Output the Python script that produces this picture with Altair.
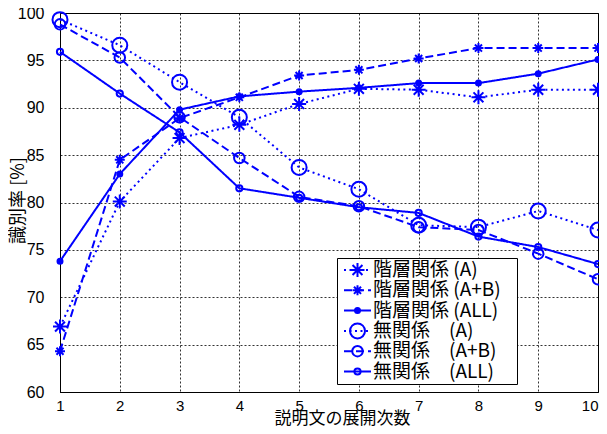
import altair as alt
import pandas as pd

# ---- data ----
x_vals = [1, 2, 3, 4, 5, 6, 7, 8, 9, 10]
y_ticks = [60, 65, 70, 75, 80, 85, 90, 95, 100]
series_names = [
    "階層関係 (A)",
    "階層関係 (A+B)",
    "階層関係 (ALL)",
    "無関係\u3000(A)",
    "無関係\u3000(A+B)",
    "無関係\u3000(ALL)",
]
kaiso_A = [66.9, 80.1, 86.8, 88.2, 90.4, 92.0, 91.9, 91.1, 91.9, 91.9]
kaiso_AB = [64.3, 84.5, 88.9, 91.1, 93.4, 94.0, 95.2, 96.3, 96.3, 96.3]
kaiso_ALL = [73.8, 83.0, 89.8, 91.2, 91.7, 92.1, 92.6, 92.6, 93.6, 95.1]
muk_A = [99.3, 96.6, 92.7, 89.0, 83.7, 81.4, 77.6, 77.4, 79.1, 77.1]
muk_AB = [98.8, 95.3, 89.0, 84.7, 80.6, 79.6, 77.4, 77.1, 74.6, 71.9]
muk_ALL = [95.9, 91.5, 87.4, 81.5, 80.5, 79.5, 78.9, 76.4, 75.3, 73.5]
all_series = [kaiso_A, kaiso_AB, kaiso_ALL, muk_A, muk_AB, muk_ALL]

rows = []
for i, (name, vals) in enumerate(zip(series_names, all_series)):
    for x, v in zip(x_vals, vals):
        rows.append({"x": x, "y": v, "series": name, "mkey": f"m{i}"})
df = pd.DataFrame(rows)
mkeys = [f"m{i}" for i in range(len(series_names))]

# ---- styles ----
BLUE = "#0000ff"
DOT = [2, 3.5]
DASH = [8, 4]
SOLID = [1, 0]
dashes = [DOT, DASH, SOLID, DOT, DASH, SOLID]


def asterisk(r):
    d = round(r * 0.7071, 4)
    return (f"M0,{-r}V{r}M{-r},0H{r}"
            f"M{-d},{-d}L{d},{d}M{-d},{d}L{d},{-d}")


def circle(r):
    return f"M{r},0A{r},{r},0,1,1,{-r},0A{r},{r},0,1,1,{r},0Z"


# filled dot: concentric rings that the 2px stroke fills in
shapes = [asterisk(0.7), asterisk(0.5), circle(0.25) + circle(0.1),
          circle(0.75), circle(0.525), circle(0.31)]

LEG_X = 277
LEG_Y = 245

line_legend = alt.Legend(
    orient="none", legendX=LEG_X, legendY=LEG_Y, title=None,
    symbolType="stroke", symbolSize=729, symbolStrokeWidth=2,
    symbolStrokeColor=BLUE, symbolOffset=4, labelOffset=1,
    labelExpr="datum.label + '\u2800'",
    labelFont="Noto Sans CJK JP", labelFontSize=19, labelColor="black",
    clipHeight=20, rowPadding=0.3, padding=2,
    fillColor="white", strokeColor="black",
)
marker_legend = alt.Legend(
    orient="none", legendX=LEG_X, legendY=LEG_Y, title=None,
    symbolSize=400, symbolStrokeWidth=2, symbolStrokeColor=BLUE,
    symbolFillColor="transparent", symbolOpacity=1,
    symbolOffset=7.5, labelExpr="''",
    labelFont="Noto Sans CJK JP", labelFontSize=19,
    clipHeight=20, rowPadding=0.3, padding=2,
)

x_enc = alt.X(
    "x:Q",
    scale=alt.Scale(domain=[1, 10], nice=False, zero=False),
    axis=alt.Axis(values=x_vals, title="説明文の展開次数", format="d",
                  labelFlush=False, labelOverlap=False, labelPadding=6,
                  labelFontSize=15,
                  labelAlign={"condition": {"test": "datum.value == 10", "value": "right"},
                              "value": "center"},
                  titleX=282, titleY=26.5, titleBaseline="middle",
                  titleFontSize=17),
)
y_enc = alt.Y(
    "y:Q",
    scale=alt.Scale(domain=[60, 100], nice=False, zero=False),
    axis=alt.Axis(values=y_ticks, title="識別率 [%]", format="d",
                  labelOverlap=False, labelPadding=16, labelFontSize=16,
                  titleX=-42, titleY=187, titleBaseline="middle",
                  titleAlign="center", titleFontSize=18),
)

lines = alt.Chart(df).mark_line(color=BLUE, strokeWidth=2).encode(
    x=x_enc, y=y_enc,
    strokeDash=alt.StrokeDash("series:N",
                              scale=alt.Scale(domain=series_names, range=dashes),
                              legend=line_legend),
)

points = alt.Chart(df).mark_point(
    color=BLUE, strokeWidth=2, size=400, filled=False, opacity=1
).encode(
    x=x_enc, y=y_enc,
    shape=alt.Shape("mkey:N", scale=alt.Scale(domain=mkeys, range=shapes),
                    legend=marker_legend),
)

chart = alt.layer(lines, points).properties(
    width=538, height=379,
    autosize=alt.AutoSizeParams(type="none"),
    padding={"left": 52, "top": 5, "right": 1, "bottom": 34},
).configure_view(
    stroke="black", strokeWidth=1
).configure_axis(
    labelFont="Liberation Sans", labelColor="black",
    titleFont="Noto Sans CJK JP", titleFontWeight="normal", titleColor="black",
    domainColor="black", domainWidth=1,
    ticks=False, tickSize=0,
    grid=True, gridColor="#000000", gridDash=[2, 2], gridWidth=1, gridOpacity=0.8,
)

chart.save("out.html", embed_options={"renderer": "svg", "actions": False})
